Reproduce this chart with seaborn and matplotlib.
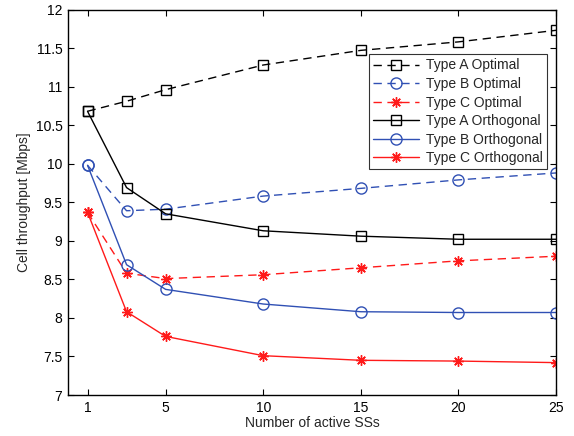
import matplotlib
matplotlib.use("Agg")
import matplotlib.pyplot as plt
import seaborn as sns
import numpy as np

x_ss = [1, 3, 5, 10, 15, 20, 25]
type_a_opt = [10.68, 10.81, 10.96, 11.28, 11.47, 11.58, 11.73]
type_b_opt = [9.98, 9.39, 9.41, 9.58, 9.68, 9.79, 9.88]
type_c_opt = [9.37, 8.58, 8.51, 8.56, 8.65, 8.74, 8.80]
type_a_orth = [10.68, 9.69, 9.35, 9.13, 9.06, 9.02, 9.02]
type_b_orth = [9.98, 8.69, 8.37, 8.18, 8.08, 8.07, 8.07]
type_c_orth = [9.37, 8.08, 7.76, 7.51, 7.45, 7.44, 7.42]
labels = ["Type A Optimal", "Type B Optimal", "Type C Optimal",
          "Type A Orthogonal", "Type B Orthogonal", "Type C Orthogonal"]
x_ticks = [1, 5, 10, 15, 20, 25]
y_ticks = [7, 7.5, 8, 8.5, 9, 9.5, 10, 10.5, 11, 11.5, 12]

sns.set_theme(style="ticks")
plt.rcParams["font.family"] = ["Liberation Sans", "DejaVu Sans"]

fig = plt.figure(figsize=(5.74, 4.36), dpi=100)
ax = fig.add_axes([68/574, 1-395/436, (556-68)/574, (395-9.5)/436])

black = "#000000"
blue = "#3050b4"
red = "#ff1a1a"
series = [type_a_opt, type_b_opt, type_c_opt, type_a_orth, type_b_orth, type_c_orth]
colors = [black, blue, red, black, blue, red]
markers = ["s", "o", (8, 2, 0), "s", "o", (8, 2, 0)]
styles = [(0, (6, 4))] * 3 + ["-"] * 3
msizes = [7.5, 8, 7.5, 7.5, 8, 7.5]

for ys, c, m, ls, lab, ms in zip(series, colors, markers, styles, labels, msizes):
    sns.lineplot(x=x_ss, y=ys, ax=ax, color=c, marker=m, linestyle=ls,
                 markersize=ms, markerfacecolor="none", markeredgecolor=c,
                 markeredgewidth=1.0, linewidth=1.0, label=lab)

ax.set_xlim(0, 25)
ax.set_ylim(7, 12)
ax.set_xticks(x_ticks)
ax.set_xticklabels([str(v) for v in x_ticks])
ax.set_yticks(y_ticks)
ax.set_yticklabels([("%g" % v) for v in y_ticks])
ax.tick_params(direction="in", top=True, right=True, length=4, width=0.8,
               labelsize=10, colors="#000000", pad=4)
for s in ax.spines.values():
    s.set_linewidth(1.0)
    s.set_color("#000000")
    s.set_visible(True)
ax.set_xlabel("Number of active SSs", fontsize=10, labelpad=1)
ax.set_ylabel("Cell throughput [Mbps]", fontsize=10, labelpad=3)

leg = ax.legend(loc="upper right", bbox_to_anchor=(0.982, 0.884), fontsize=10,
                frameon=True, fancybox=False, edgecolor="#000000",
                handlelength=3.3, borderpad=0.3, labelspacing=0.33,
                handletextpad=0.5, borderaxespad=0)
leg.get_frame().set_linewidth(0.8)

fig.savefig("out.png", dpi=100)
